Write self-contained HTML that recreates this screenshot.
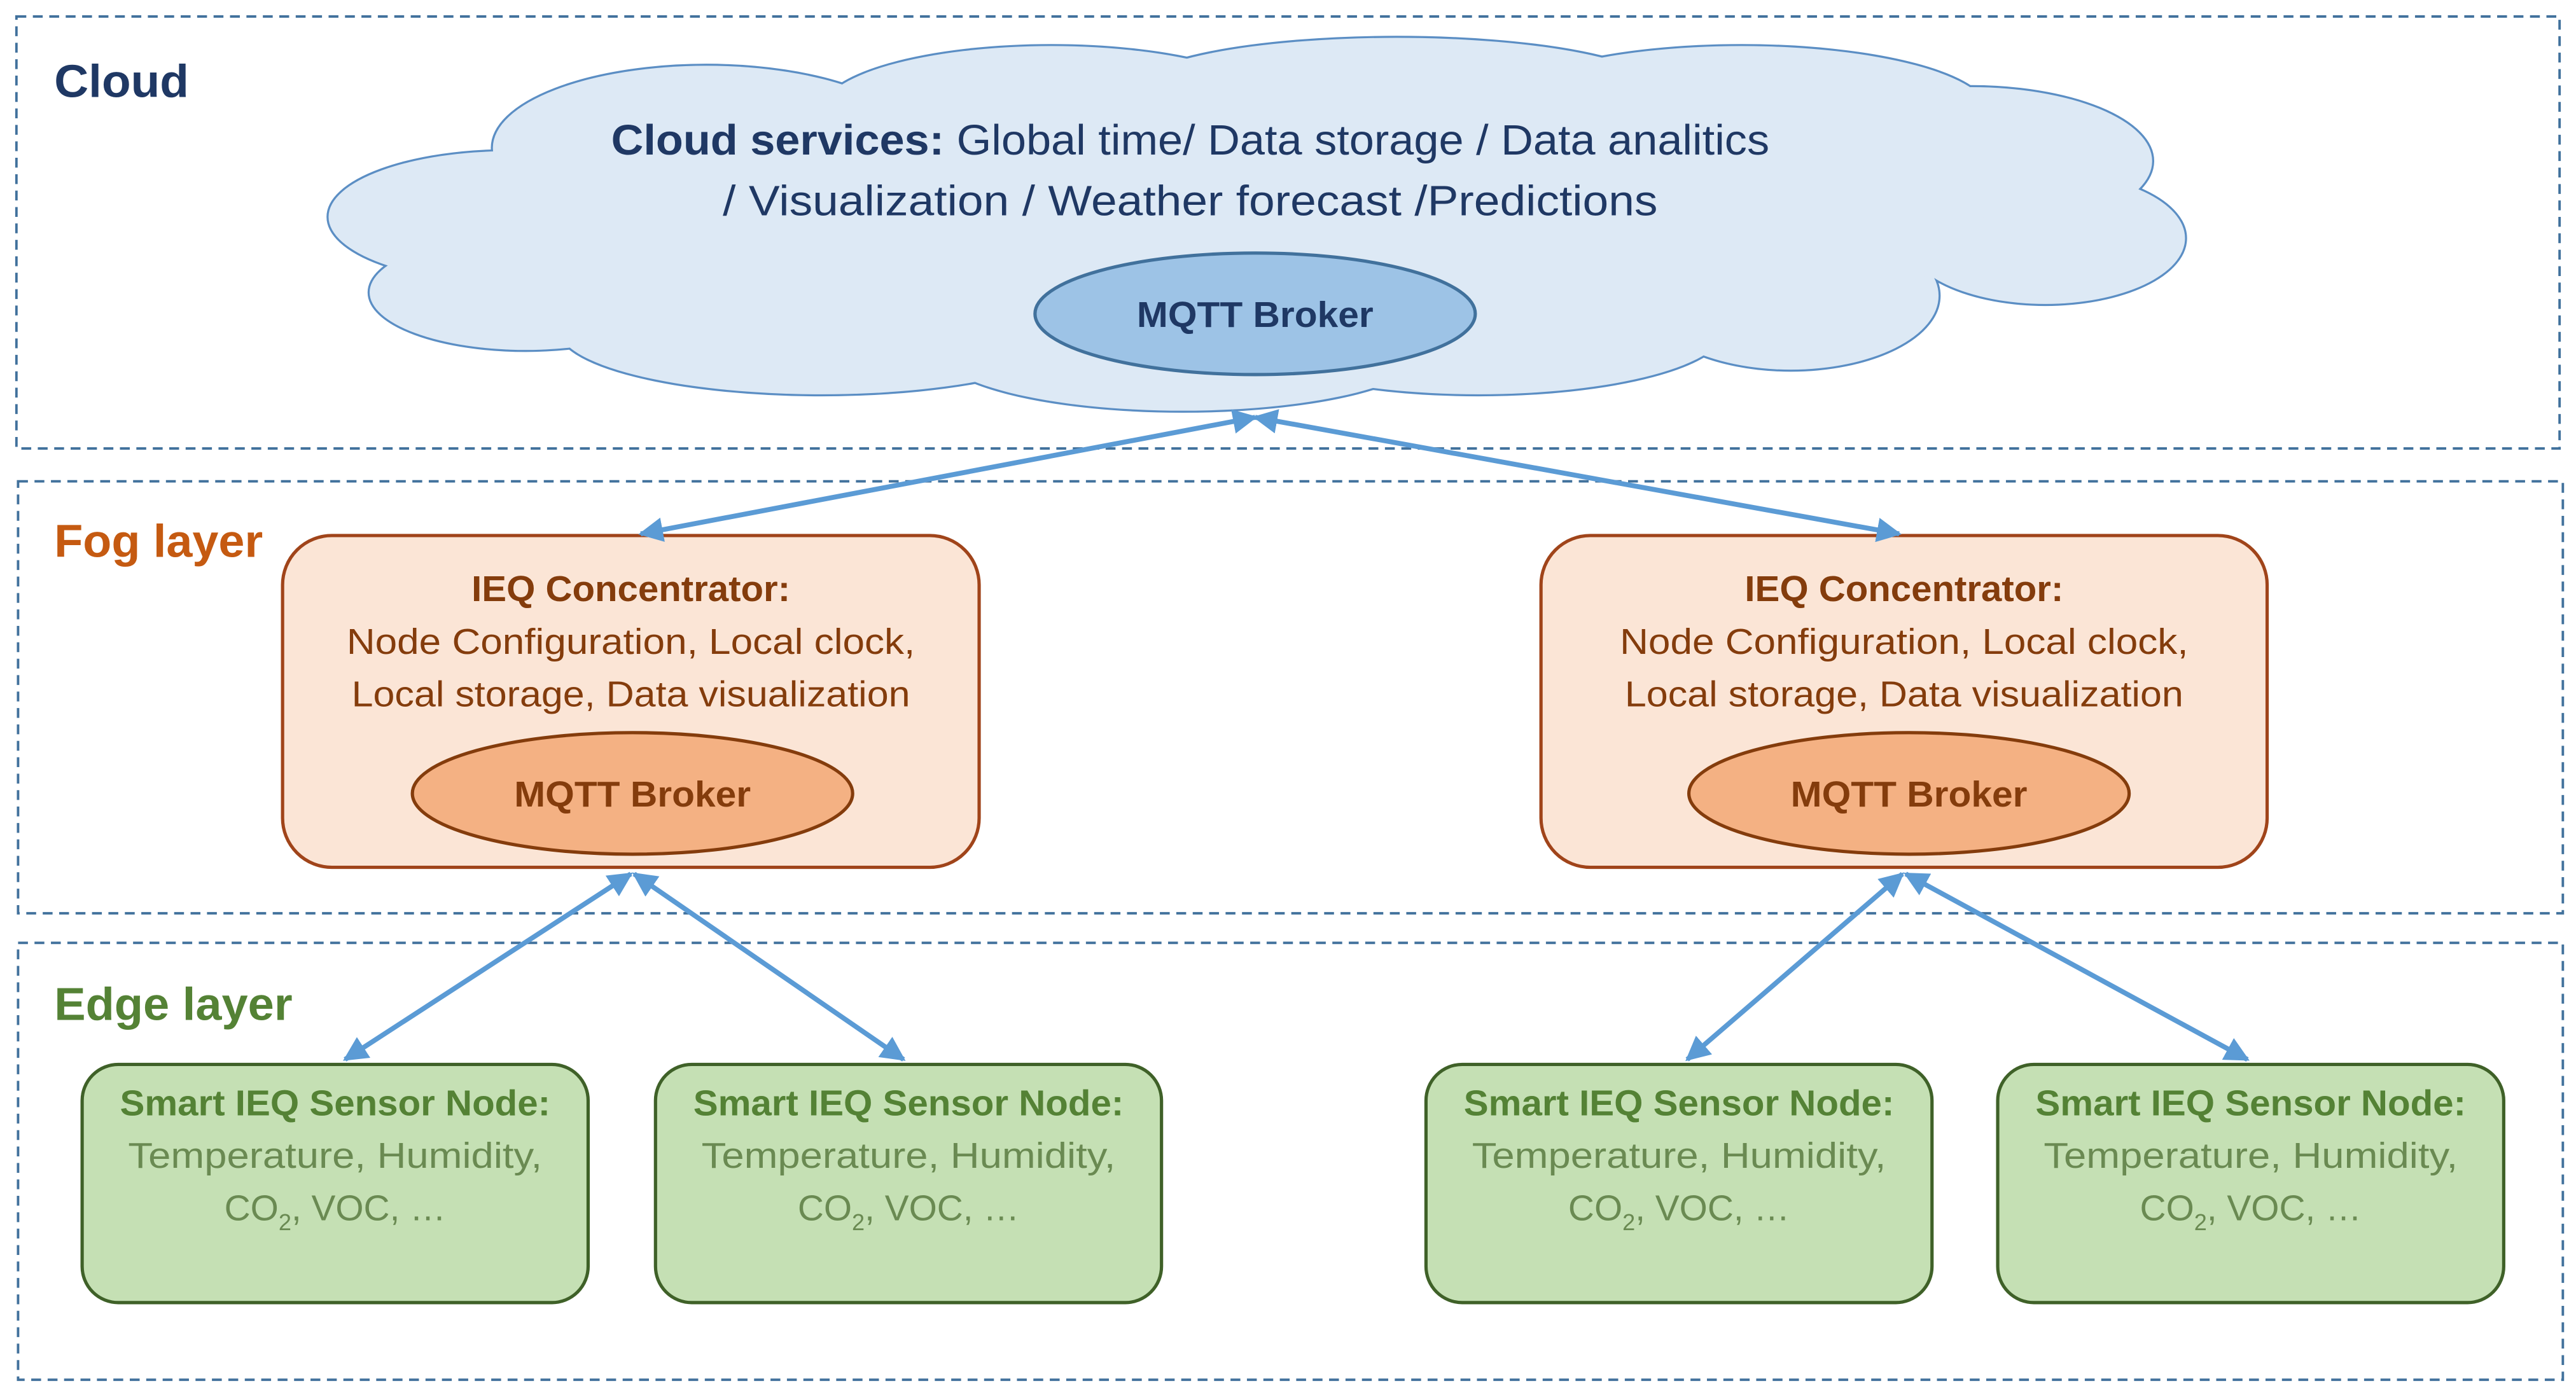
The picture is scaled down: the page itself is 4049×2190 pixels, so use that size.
<!DOCTYPE html>
<html><head><meta charset="utf-8"><style>
html,body{margin:0;padding:0;background:#fff;}
svg{display:block}
text{font-family:"Liberation Sans",sans-serif;}
</style></head><body>
<svg width="4049" height="2190" viewBox="0 0 1568 848" xmlns="http://www.w3.org/2000/svg">
<defs>
<marker id="ah" viewBox="0 0 10 10" refX="9" refY="5" markerWidth="5" markerHeight="5" orient="auto-start-reverse">
<path d="M0,0 L10,5 L0,10 z" fill="#5b9bd5"/></marker>
</defs>
<g fill="none" stroke="#41719c" stroke-width="1.5" stroke-dasharray="6,4">
<rect x="10" y="10" width="1548" height="263"/>
<rect x="11" y="293" width="1549" height="263"/>
<rect x="11" y="574" width="1549" height="266"/>
</g>
<!-- cloud -->
<g id="cl" stroke="#5b8ec4" stroke-width="2.5" fill="#dde9f5">
<ellipse cx="310" cy="132" rx="110" ry="40"/>
<ellipse cx="430" cy="90" rx="130" ry="50"/>
<ellipse cx="640" cy="68" rx="140" ry="40"/>
<ellipse cx="850" cy="55" rx="160" ry="32"/>
<ellipse cx="1060" cy="68" rx="150" ry="40"/>
<ellipse cx="1200" cy="98" rx="110" ry="45"/>
<ellipse cx="1245" cy="145" rx="85" ry="40"/>
<ellipse cx="1090" cy="180" rx="90" ry="45"/>
<ellipse cx="900" cy="200" rx="150" ry="40"/>
<ellipse cx="720" cy="212" rx="150" ry="38"/>
<ellipse cx="500" cy="200" rx="160" ry="40"/>
<ellipse cx="320" cy="178" rx="95" ry="35"/>
<ellipse cx="760" cy="140" rx="450" ry="70"/>
</g>
<g fill="#dde9f5">
<ellipse cx="310" cy="132" rx="110" ry="40"/>
<ellipse cx="430" cy="90" rx="130" ry="50"/>
<ellipse cx="640" cy="68" rx="140" ry="40"/>
<ellipse cx="850" cy="55" rx="160" ry="32"/>
<ellipse cx="1060" cy="68" rx="150" ry="40"/>
<ellipse cx="1200" cy="98" rx="110" ry="45"/>
<ellipse cx="1245" cy="145" rx="85" ry="40"/>
<ellipse cx="1090" cy="180" rx="90" ry="45"/>
<ellipse cx="900" cy="200" rx="150" ry="40"/>
<ellipse cx="720" cy="212" rx="150" ry="38"/>
<ellipse cx="500" cy="200" rx="160" ry="40"/>
<ellipse cx="320" cy="178" rx="95" ry="35"/>
<ellipse cx="760" cy="140" rx="450" ry="70"/>
</g>
<ellipse cx="764" cy="191" rx="134" ry="37" fill="#9dc3e6" stroke="#41719c" stroke-width="2"/>
<text x="764" y="199" text-anchor="middle" font-size="22" font-weight="bold" fill="#1f3864" textLength="144" lengthAdjust="spacingAndGlyphs">MQTT Broker</text>
<text x="372" y="94" font-size="26" fill="#1f3864" textLength="705" lengthAdjust="spacingAndGlyphs"><tspan font-weight="bold">Cloud services:</tspan> Global time/ Data storage / Data analitics</text>
<text x="440" y="131" font-size="26" fill="#1f3864" textLength="569" lengthAdjust="spacingAndGlyphs">/ Visualization / Weather forecast /Predictions</text>
<text x="33" y="59" font-size="28" font-weight="bold" fill="#1f3864" textLength="82" lengthAdjust="spacingAndGlyphs">Cloud</text>
<text x="33" y="339" font-size="28" font-weight="bold" fill="#c55a11" textLength="127" lengthAdjust="spacingAndGlyphs">Fog layer</text>
<text x="33" y="621" font-size="28" font-weight="bold" fill="#548235" textLength="145" lengthAdjust="spacingAndGlyphs">Edge layer</text>
<!-- concentrators -->
<g>
<rect x="172" y="326" width="424" height="202" rx="30" fill="#fbe5d6" stroke="#a0441a" stroke-width="2"/>
<text x="384" y="366" text-anchor="middle" font-size="22" font-weight="bold" fill="#843c0c" textLength="194" lengthAdjust="spacingAndGlyphs">IEQ Concentrator:</text>
<text x="384" y="398" text-anchor="middle" font-size="22" fill="#843c0c" textLength="346" lengthAdjust="spacingAndGlyphs">Node Configuration,  Local clock,</text>
<text x="384" y="430" text-anchor="middle" font-size="22" fill="#843c0c" textLength="340" lengthAdjust="spacingAndGlyphs">Local storage, Data visualization</text>
<ellipse cx="385" cy="483" rx="134" ry="37" fill="#f4b183" stroke="#843c0c" stroke-width="2"/>
<text x="385" y="491" text-anchor="middle" font-size="22" font-weight="bold" fill="#843c0c" textLength="144" lengthAdjust="spacingAndGlyphs">MQTT Broker</text>
</g>
<g>
<rect x="938" y="326" width="442" height="202" rx="30" fill="#fbe5d6" stroke="#a0441a" stroke-width="2"/>
<text x="1159" y="366" text-anchor="middle" font-size="22" font-weight="bold" fill="#843c0c" textLength="194" lengthAdjust="spacingAndGlyphs">IEQ Concentrator:</text>
<text x="1159" y="398" text-anchor="middle" font-size="22" fill="#843c0c" textLength="346" lengthAdjust="spacingAndGlyphs">Node Configuration,  Local clock,</text>
<text x="1159" y="430" text-anchor="middle" font-size="22" fill="#843c0c" textLength="340" lengthAdjust="spacingAndGlyphs">Local storage, Data visualization</text>
<ellipse cx="1162" cy="483" rx="134" ry="37" fill="#f4b183" stroke="#843c0c" stroke-width="2"/>
<text x="1162" y="491" text-anchor="middle" font-size="22" font-weight="bold" fill="#843c0c" textLength="144" lengthAdjust="spacingAndGlyphs">MQTT Broker</text>
</g>
<!-- sensors -->
<g id="s1">
<rect x="50" y="648" width="308" height="145" rx="22" fill="#c5e0b4" stroke="#3f6128" stroke-width="2"/>
<text x="204" y="679" text-anchor="middle" font-size="22" font-weight="bold" fill="#548235" textLength="262" lengthAdjust="spacingAndGlyphs">Smart IEQ Sensor Node:</text>
<text x="204" y="711" text-anchor="middle" font-size="22" fill="#6a8a52" textLength="252" lengthAdjust="spacingAndGlyphs">Temperature,  Humidity,</text>
<text x="204" y="743" text-anchor="middle" font-size="22" fill="#6a8a52">CO<tspan font-size="14" dy="6">2</tspan><tspan dy="-6">, VOC, …</tspan></text>
</g>
<use href="#s1" x="349"/>
<use href="#s1" x="818"/>
<use href="#s1" x="1166"/>
<!-- arrows -->
<g stroke="#5b9bd5" stroke-width="3" marker-start="url(#ah)" marker-end="url(#ah)">
<line x1="764" y1="254" x2="390" y2="325"/>
<line x1="764" y1="254" x2="1156" y2="325"/>
<line x1="384" y1="532" x2="210" y2="645"/>
<line x1="386" y1="532" x2="550" y2="645"/>
<line x1="1158" y1="532" x2="1027" y2="645"/>
<line x1="1160" y1="532" x2="1368" y2="645"/>
</g>
</svg>
</body></html>
